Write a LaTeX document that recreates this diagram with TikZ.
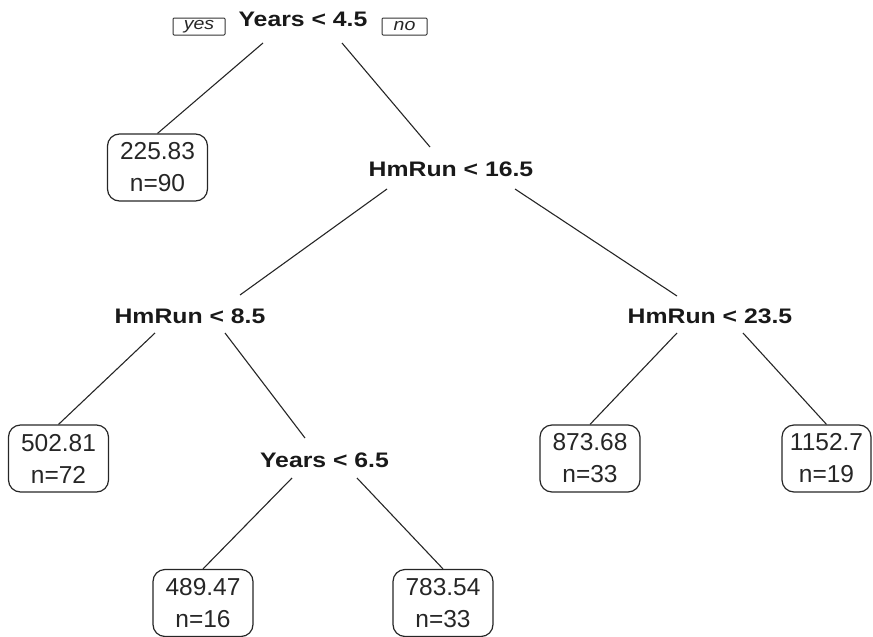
\documentclass[tikz,border=0pt]{standalone}
\usepackage{fontspec}
\setmainfont{Liberation Sans}
\newfontfamily\labfont[FakeStretch=1.18]{Liberation Sans}
\newfontfamily\yesnofont[FakeStretch=1.15]{Liberation Sans}
\begin{document}
\begin{tikzpicture}[x=1pt,y=-1pt,
  splitlabel/.style={font=\labfont\bfseries\fontsize{21}{25}\selectfont, text=black!90, inner sep=0pt, anchor=base},
  leafbox/.style={draw=black!85, rounded corners=12pt, line width=1.2pt, minimum width=100pt, minimum height=67pt,
    inner sep=0pt, align=center, text=black!85, font=\fontsize{24.5}{32}\selectfont},
  yesno/.style={draw=black!80, line width=1pt, inner sep=0pt, minimum height=17pt, rounded corners=1pt,
    font=\yesnofont\itshape\fontsize{17}{18}\selectfont, text=black!85},
  branch/.style={draw=black!85, line width=1.1pt}]
\useasboundingbox (0,0) rectangle (873,637);

% split labels
\node[splitlabel] (root) at (303,27) {Years < 4.5};
\node[splitlabel] (s165) at (451,176) {HmRun < 16.5};
\node[splitlabel] (s85) at (190,323) {HmRun < 8.5};
\node[splitlabel] (s235) at (710,323) {HmRun < 23.5};
\node[splitlabel] (s65) at (324.5,467) {Years < 6.5};

% yes / no
\node[yesno, minimum width=52pt] (yes) at (199,26.5) {yes};
\node[yesno, minimum width=45pt] (no) at (404.5,26.5) {no};

% leaves
\node[leafbox] (l1) at (157.5,167.5) {225.83\\n=90};
\node[leafbox] (l2) at (58.5,458.5) {502.81\\n=72};
\node[leafbox] (l3) at (590,458.5) {873.68\\n=33};
\node[leafbox, minimum width=89pt] (l4) at (826.5,458.5) {1152.7\\n=19};
\node[leafbox] (l5) at (203,603) {489.47\\n=16};
\node[leafbox] (l6) at (443,603) {783.54\\n=33};

% branch end points
\coordinate (root-l) at (263,43);
\coordinate (root-r) at (342,43);
\coordinate (s165-top) at (430,147);
\coordinate (s165-l) at (387,189);
\coordinate (s165-r) at (515,189);
\coordinate (s85-top) at (240,295);
\coordinate (s235-top) at (677,296);
\coordinate (s85-l) at (155,333);
\coordinate (s85-r) at (225,333);
\coordinate (s65-top) at (305,438);
\coordinate (s235-l) at (677,333);
\coordinate (s235-r) at (743,333);
\coordinate (s65-l) at (292,478);
\coordinate (s65-r) at (357,478);

\draw[branch] (root-l) -- (l1.north);
\draw[branch] (root-r) -- (s165-top);
\draw[branch] (s165-l) -- (s85-top);
\draw[branch] (s165-r) -- (s235-top);
\draw[branch] (s85-l) -- (l2.north);
\draw[branch] (s85-r) -- (s65-top);
\draw[branch] (s235-l) -- (l3.north);
\draw[branch] (s235-r) -- (l4.north);
\draw[branch] (s65-l) -- (l5.north);
\draw[branch] (s65-r) -- (l6.north);
\end{tikzpicture}
\end{document}
